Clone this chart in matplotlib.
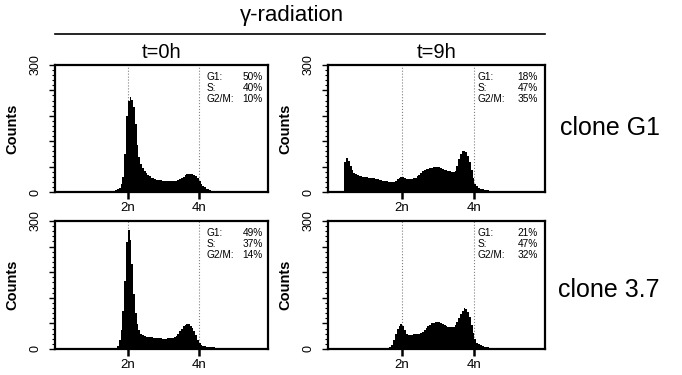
import numpy as np
import matplotlib
matplotlib.use('Agg')
import matplotlib.pyplot as plt
from matplotlib.lines import Line2D
from matplotlib.ticker import MultipleLocator

plt.rcParams['font.family'] = ['Liberation Sans', 'DejaVu Sans']

# DNA content histograms, bin width 0.05 (units of n), counts per bin
bin_width = 0.05

g1_0h_start = 1.60
g1_0h = [2, 4, 6, 9, 18, 35, 90, 180, 215, 224, 218, 200, 160, 110, 82, 66,
         56, 49, 44, 40, 37, 34, 32, 30, 29, 28, 28, 27, 27, 26, 26, 25, 26,
         25, 26, 27, 28, 30, 32, 36, 40, 42, 43, 43, 42, 40, 37, 32, 26, 20,
         15, 11, 8, 6, 4, 3, 2, 2, 1]

g1_9h_start = 0.40
g1_9h = [70, 80, 74, 62, 52, 46, 42, 40, 38, 37, 36, 35, 35, 34, 34, 33, 32,
         31, 30, 29, 28, 27, 26, 25, 24, 24, 23, 24, 27, 31, 34, 36, 35, 33,
         31, 30, 31, 31, 32, 34, 37, 41, 45, 49, 52, 54, 55, 56, 57, 59, 60,
         59, 58, 56, 55, 53, 51, 50, 49, 48, 48, 50, 62, 78, 90, 96, 97, 94,
         84, 70, 52, 34, 20, 13, 9, 7, 6, 5, 4, 4, 3, 2, 1]

c37_0h_start = 1.65
c37_0h = [3, 8, 20, 45, 90, 160, 250, 278, 255, 200, 130, 85, 58, 44, 36, 32,
          30, 29, 28, 27, 27, 26, 26, 26, 25, 25, 24, 24, 24, 25, 25, 25, 26,
          28, 31, 36, 42, 48, 53, 56, 58, 58, 55, 50, 42, 33, 22, 14, 9, 7,
          6, 5, 5, 5, 4, 4, 3, 2]

c37_9h_start = 0.45
c37_9h = [3, 3, 3, 2, 3, 3, 3, 3, 3, 2, 3, 3, 3, 3, 3, 3, 3, 3, 3, 3, 3, 3,
          3, 3, 4, 10, 22, 35, 46, 53, 58, 55, 44, 35, 32, 33, 33, 34, 35, 35,
          36, 38, 41, 45, 49, 53, 57, 60, 62, 64, 64, 63, 61, 59, 56, 53, 52,
          51, 51, 52, 56, 63, 72, 82, 90, 95, 94, 86, 74, 56, 38, 24, 15, 11,
          9, 7, 5, 4, 4, 3, 3, 3, 2]

phase_names = ['G1:', 'S:', 'G2/M:']
g1_0h_pct = ['50%', '40%', '10%']
g1_9h_pct = ['18%', '47%', '35%']
c37_0h_pct = ['49%', '37%', '14%']
c37_9h_pct = ['21%', '47%', '32%']

W, H = 682, 375
fig = plt.figure(figsize=(W / 100, H / 100), dpi=100)


def px_axes(x0, y0, x1, y1):
    return fig.add_axes([x0 / W, 1 - y1 / H, (x1 - x0) / W, (y1 - y0) / H])


panels = [
    (px_axes(55, 65, 268, 192), g1_0h_start, g1_0h, g1_0h_pct, 0.71, 0.975),
    (px_axes(328, 65, 545, 192), g1_9h_start, g1_9h, g1_9h_pct, 0.69, 0.968),
    (px_axes(55, 221, 268, 349), c37_0h_start, c37_0h, c37_0h_pct, 0.71, 0.975),
    (px_axes(328, 221, 545, 349), c37_9h_start, c37_9h, c37_9h_pct, 0.69, 0.968),
]

for ax, start, counts, pct, xl, xr in panels:
    edges = start + bin_width * np.arange(len(counts) + 1)
    ax.axvline(2, color='gray', ls=':', lw=0.8, zorder=0)
    ax.axvline(4, color='gray', ls=':', lw=0.8, zorder=0)
    ax.stairs(counts, edges, fill=True, color='black', zorder=2)
    ax.set_xlim(-0.05, 5.95)
    ax.set_ylim(0, 300)
    for s in ax.spines.values():
        s.set_linewidth(1.6)
    ax.set_xticks([2, 4], ['2n', '4n'])
    ax.tick_params(axis='x', direction='out', length=5, width=1.8,
                   labelsize=9.5, pad=2)
    ax.set_yticks([0, 60, 120, 180, 240, 300], ['0', '', '', '', '', '300'])
    ax.yaxis.set_minor_locator(MultipleLocator(12))
    ax.tick_params(axis='y', which='major', direction='out', length=4,
                   width=1, labelsize=9, pad=6, labelrotation=90)
    ax.tick_params(axis='y', which='minor', direction='out', length=2.5,
                   width=0.8)
    for lab in ax.get_yticklabels():
        lab.set_va('center')
    ax.set_ylabel('Counts', fontsize=10.5, fontweight='bold')
    ax.yaxis.set_label_coords(-0.165, 0.5)
    for i, (name, val) in enumerate(zip(phase_names, pct)):
        y = 0.905 - i * 0.087
        ax.text(xl, y, name, transform=ax.transAxes, ha='left', va='center',
                fontsize=7.3)
        ax.text(xr, y, val, transform=ax.transAxes, ha='right', va='center',
                fontsize=7.3)

fig.text(292 / W, 1 - 15 / H, 'γ-radiation', ha='center', va='center',
         fontsize=16)
fig.add_artist(Line2D([55 / W, 545 / W], [1 - 34 / H] * 2,
                      transform=fig.transFigure, color='black', lw=1.2))
fig.text(162 / W, 1 - 53 / H, 't=0h', ha='center', va='center', fontsize=14.5)
fig.text(437 / W, 1 - 53 / H, 't=9h', ha='center', va='center', fontsize=14.5)
fig.text(560 / W, 1 - 128 / H, 'clone G1', ha='left', va='center',
         fontsize=18)
fig.text(558 / W, 1 - 290 / H, 'clone 3.7', ha='left', va='center',
         fontsize=18)

fig.savefig('out.png', dpi=100)
